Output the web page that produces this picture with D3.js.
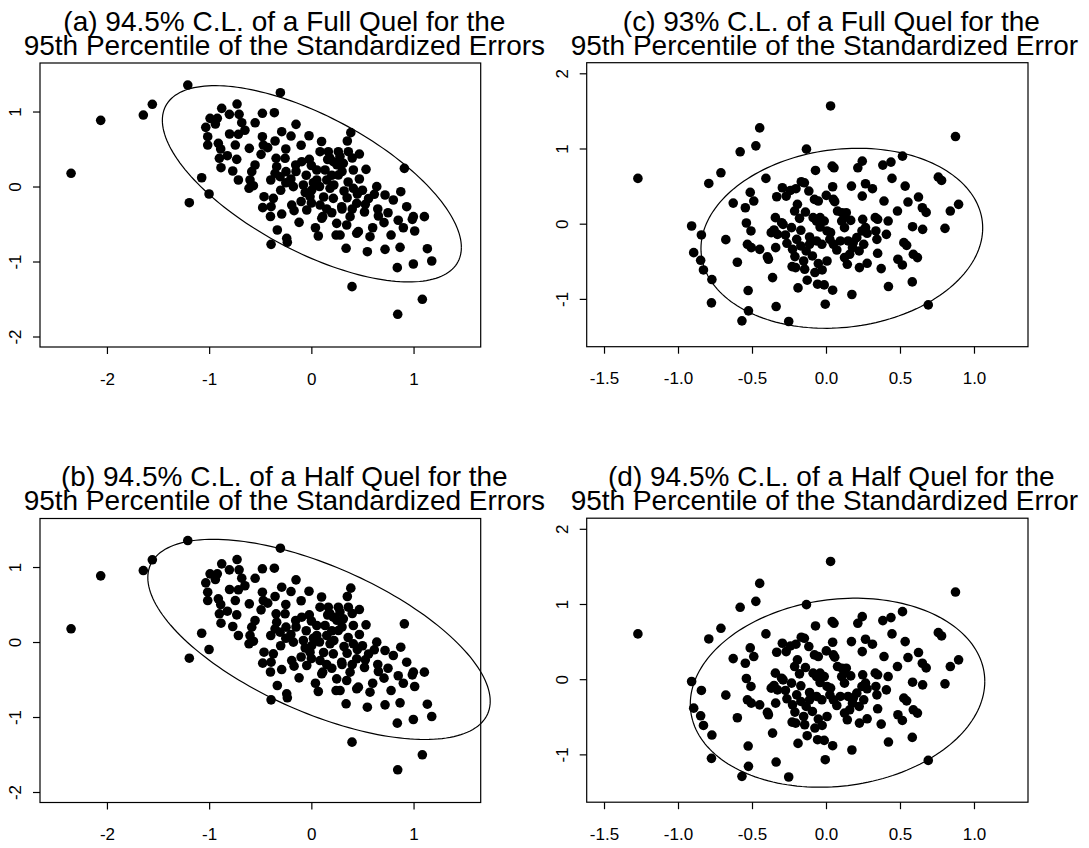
<!DOCTYPE html>
<html>
<head>
<meta charset="utf-8">
<script src="https://cdn.jsdelivr.net/npm/d3@7"></script>
<style>
  body { margin: 0; background: #fff; }
  svg { display: block; font-family: "Liberation Sans", Arial, Helvetica, sans-serif; }
</style>
</head>
<body>
<div id="chart"></div>
<script>
// standardized errors used in panels (a) and (b)
var errAB_x = [-2.351,-2.061,-1.644,-1.556,-1.209,-0.303,-1.073,-1.001,-1.194,-0.877,-0.727,-0.991,-0.920,-0.802,-0.707,-0.681,-1.033,-0.939,-1.014,-1.014,
  -0.910,-0.887,-0.714,-0.744,-0.900,-0.822,-0.884,-0.730,-0.769,-0.714,-0.479,-0.362,-0.150,-0.023,-0.199,-0.290,-0.355,-0.479,-0.470,-0.427,
  -0.607,-0.492,-0.551,-0.583,-0.600,-0.567,-0.610,-0.345,-0.257,-0.339,-0.355,-0.397,-0.306,-0.248,-0.463,-0.372,-0.476,-0.394,-0.290,-0.192,
  -0.169,-0.120,-0.333,-0.153,-0.094,-0.020,0.085,0.166,0.264,0.362,0.386,0.352,0.470,0.215,0.313,0.053,0.134,-0.176,-0.078,0.004,
  0.053,0.151,0.264,0.411,0.535,0.411,0.444,0.528,0.616,0.640,0.183,0.215,0.297,0.379,0.111,0.085,-0.013,-0.045,0.248,0.346,
  0.460,0.574,0.281,0.068,-0.241,0.910,0.721,0.875,0.802,0.933,0.998,1.106,0.988,1.011,0.780,0.868,0.721,0.548,0.340,0.242,
  1.135,1.178,0.998,0.841,0.398,1.086,0.845,-0.235,-0.394,0.102,0.656,0.711,0.444,-0.050,0.000,0.220,0.320,0.120,-0.100,0.360,
  0.470,0.250,-0.200,0.160,0.520,0.560,0.040,-0.250,-0.100,0.300,0.200,-0.300,0.100,0.650,0.750,0.850,-0.650,-0.550,-0.800,-0.400,
  0.900,0.600,0.350,0.180,0.280,0.400,0.020,-0.060,0.080,0.300,0.200,0.450,0.500,-0.150,-0.250,0.000,0.150,0.400];
var errAB_y = [0.176,0.882,0.953,1.096,1.353,1.251,0.117,-0.100,-0.216,1.042,1.100,0.909,0.909,0.962,0.962,0.851,0.789,0.833,0.664,0.553,
  0.576,0.500,0.696,0.553,0.376,0.411,0.251,0.362,0.207,0.087,0.976,0.984,0.829,0.677,0.673,0.731,0.607,0.664,0.553,0.518,
  0.509,0.429,0.287,0.198,0.087,0.011,-0.024,0.376,0.376,0.264,0.176,0.087,0.131,0.198,-0.136,-0.158,-0.282,-0.269,-0.367,-0.247,
  -0.322,-0.478,-0.580,0.287,0.331,0.362,0.464,0.464,0.464,0.464,0.718,0.607,0.433,0.331,0.309,0.220,0.220,-0.002,0.020,-0.047,
  0.087,0.087,0.153,0.220,0.229,-0.024,-0.224,-0.238,-0.104,-0.002,-0.024,-0.158,-0.269,-0.402,-0.402,-0.247,-0.136,-0.313,-0.491,-0.513,
  -0.602,-0.669,-0.647,-0.660,-0.691,0.242,-0.113,-0.069,-0.180,-0.269,-0.402,-0.402,-0.438,-0.593,-0.647,-0.811,-0.838,-0.869,-0.824,-0.647,
  -0.829,-0.993,-1.033,-1.082,-1.335,-1.504,-1.704,-0.744,-0.771,-0.424,-0.393,-0.482,-0.624,0.150,0.280,0.020,-0.060,-0.140,-0.200,0.060,
  0.100,0.290,0.100,0.360,-0.340,-0.160,-0.550,0.500,0.550,-0.300,-0.350,-0.050,0.600,-0.300,-0.350,-0.450,0.750,0.850,0.700,-0.400,
  -0.550,-0.550,-0.150,0.380,0.400,0.380,0.050,-0.080,0.000,0.200,0.150,-0.100,-0.050,0.200,0.050,-0.220,-0.300,-0.300];

// standardized errors used in panels (c) and (d)
var errCD_x = [-1.271,0.031,-0.448,-0.474,-0.580,-0.132,0.875,-0.710,-0.792,-0.406,-0.908,-0.842,-0.894,-0.847,-0.828,-0.771,-0.774,-0.568,-0.524,-0.526,
  -0.677,-0.599,-0.627,-0.545,-0.512,-0.488,-0.538,-0.507,-0.531,-0.505,-0.448,-0.396,-0.389,-0.361,-0.337,-0.252,-0.189,-0.342,-0.370,-0.351,
  -0.340,-0.295,-0.333,-0.269,-0.290,-0.274,-0.264,-0.233,-0.226,-0.198,-0.210,-0.229,-0.203,-0.167,-0.146,-0.116,-0.193,-0.212,-0.139,-0.179,
  -0.170,-0.111,-0.111,-0.134,-0.151,-0.144,-0.127,-0.075,-0.052,-0.026,-0.057,-0.012,0.007,0.045,-0.005,0.175,-0.078,-0.052,-0.071,0.042,
  0.054,0.002,0.045,0.050,0.059,-0.087,-0.040,-0.064,-0.012,-0.040,0.007,-0.028,0.031,0.026,0.050,0.073,0.097,0.078,0.108,0.125,
  0.137,0.167,0.106,0.125,0.149,0.179,0.160,0.125,0.144,0.184,0.208,0.226,0.224,0.255,0.243,0.267,0.248,0.278,0.278,0.172,
  0.215,0.245,0.267,0.245,0.314,0.333,0.349,0.337,0.344,0.408,0.349,0.373,0.422,0.392,0.384,0.439,0.517,0.446,0.535,0.554,
  0.625,0.483,0.420,0.585,0.653,0.651,0.677,0.526,0.545,0.590,0.618,0.486,0.516,0.583,0.691,0.759,0.781,0.804,0.840,0.896,
  -0.092,-0.064,-0.170,-0.205,-0.240,-0.300,-0.328];
var errCD_y = [0.602,1.566,1.274,1.035,0.956,0.991,1.159,0.677,0.535,0.602,-0.031,-0.150,-0.385,-0.487,-0.615,-0.743,-1.053,-1.292,-1.159,-0.889,
  -0.212,-0.513,0.274,0.212,0.416,0.301,0.009,-0.097,-0.274,-0.319,-0.341,-0.442,-0.473,-0.717,-1.102,-1.301,-0.854,0.080,-0.119,-0.084,
  -0.319,0.478,0.358,0.367,-0.009,-0.150,-0.261,-0.053,-0.341,-0.208,-0.438,-0.571,0.465,0.558,0.544,0.434,0.257,0.168,0.155,0.071,
  -0.088,-0.177,-0.274,-0.363,-0.496,-0.606,-0.752,-0.650,-0.531,-0.615,-0.805,-0.814,-0.496,-0.885,-1.071,-0.942,0.323,0.301,0.708,0.765,
  0.743,0.376,0.491,0.323,0.292,0.080,0.080,0.035,0.035,-0.044,-0.097,-0.274,-0.119,-0.208,-0.274,-0.350,-0.230,0.168,0.146,0.088,
  0.146,0.044,0.035,-0.053,-0.230,-0.319,-0.407,-0.451,-0.540,-0.252,-0.186,-0.584,-0.363,-0.274,-0.097,-0.053,0.058,-0.128,-0.527,0.500,
  0.743,0.832,0.531,0.367,0.465,0.080,0.058,-0.097,-0.208,-0.142,-0.394,-0.597,-0.836,0.301,0.779,0.819,0.898,0.602,0.500,0.288,
  0.354,0.168,0.035,-0.040,-0.075,0.212,0.150,-0.252,-0.288,-0.407,-0.451,-0.473,-0.549,-0.774,-1.080,0.619,0.575,-0.062,0.168,0.257,
  -0.429,-0.230,-0.296,-0.584,0.442,0.013,-0.142];

// confidence ellipses: centre x, centre y, var x, cov xy, var y
var ellA = [0.005, 0.036, 2.140, -1.240, 1.713];
var ellB = [0.075, 0.035, 2.806, -1.380, 1.782];
var ellC = [0.107, -0.194, 0.906, 0.130, 1.433];
var ellD = [0.078, -0.180, 0.990, 0.150, 1.580];

var titlesA = ["(a) 94.5% C.L. of a Full Quel for the", "95th Percentile of the Standardized Errors"];
var titlesB = ["(b) 94.5% C.L. of a Half Quel for the", "95th Percentile of the Standardized Errors"];
var titlesC = ["(c) 93% C.L. of a Full Quel for the", "95th Percentile of the Standardized Error"];
var titlesD = ["(d) 94.5% C.L. of a Half Quel for the", "95th Percentile of the Standardized Error"];

var ticksLeftX = [-2, -1, 0, 1], ticksLeftY = [-2, -1, 0, 1];
var ticksRightX = [-1.5, -1.0, -0.5, 0.0, 0.5, 1.0], ticksRightY = [-1, 0, 1, 2];

var width = 1089, height = 848;
var svg = d3.select("#chart").append("svg")
  .attr("width", width)
  .attr("height", height);

// R prints a plain hyphen for negatives
var locale = d3.formatLocale({decimal: ".", thousands: ",", grouping: [3], currency: ["", ""], minus: "-"});
var fmtInt = locale.format("d"), fmtOne = locale.format(".1f");

var rowShift = 455.5;
var leftBox = {x0: 40, x1: 480.7, y0: 63, y1: 347, xd: [-2.655, 1.657], yd: [-2.14, 1.647], shift2: 0};
var rightBox = {x0: 586.7, x1: 1028, y0: 62.7, y1: 346.7, xd: [-1.617, 1.365], yd: [-1.636, 2.141], shift2: -7};

function ellipsePoints(e) {
  var l11 = Math.sqrt(e[2]), l21 = e[3] / l11, l22 = Math.sqrt(e[4] - l21 * l21);
  return d3.range(0, 361, 2).map(function(deg) {
    var t = deg * Math.PI / 180;
    return [e[0] + l11 * Math.cos(t), e[1] + l21 * Math.cos(t) + l22 * Math.sin(t)];
  });
}

function drawPanel(box, dy, xs, ys, ell, titles, tx, ty, fmt) {
  var y0 = box.y0 + dy, y1 = box.y1 + dy;
  var x = d3.scaleLinear().domain(box.xd).range([box.x0, box.x1]);
  var y = d3.scaleLinear().domain(box.yd).range([y1, y0]);
  var g = svg.append("g");

  // two-line title, sits a bit right of the plot centre like the original
  var cx = (box.x0 + box.x1) / 2 + 24;
  g.selectAll("text.title").data(titles).enter()
    .append("text")
    .attr("class", "title")
    .attr("x", function(d, i) { return i ? cx + box.shift2 : cx; })
    .attr("y", function(d, i) { return dy + 30.5 + i * 24; })
    .attr("text-anchor", "middle")
    .style("font-size", "28px")
    .text(function(d) { return d; });

  // points
  g.append("g").selectAll("circle")
    .data(d3.range(xs.length)).enter()
    .append("circle")
    .attr("cx", function(i) { return x(xs[i]); })
    .attr("cy", function(i) { return y(ys[i]); })
    .attr("r", 4.8)
    .attr("fill", "#000");

  // ellipse
  var line = d3.line()
    .x(function(d) { return x(d[0]); })
    .y(function(d) { return y(d[1]); });
  g.append("path")
    .datum(ellipsePoints(ell))
    .attr("d", line)
    .attr("fill", "none")
    .attr("stroke", "#000")
    .attr("stroke-width", 1.2);

  // box
  g.append("rect")
    .attr("x", box.x0).attr("y", y0)
    .attr("width", box.x1 - box.x0).attr("height", y1 - y0)
    .attr("fill", "none").attr("stroke", "#000").attr("stroke-width", 1.2);

  // x axis
  var xa = g.append("g")
    .attr("transform", "translate(0," + y1 + ")")
    .call(d3.axisBottom(x).tickValues(tx).tickFormat(fmt).tickSize(7).tickSizeOuter(0));
  xa.select(".domain").remove();
  xa.selectAll("line").attr("stroke-width", 1.2);
  xa.selectAll("text").attr("y", 37.5).attr("dy", 0)
    .style("font-size", "17px").style("font-family", "Liberation Sans, Arial, sans-serif").attr("fill", "#000");

  // y axis, labels parallel to the axis
  var ya = g.append("g")
    .attr("transform", "translate(" + box.x0 + ",0)")
    .call(d3.axisLeft(y).tickValues(ty).tickFormat(fmtInt).tickSize(7).tickSizeOuter(0));
  ya.select(".domain").remove();
  ya.selectAll("line").attr("stroke-width", 1.2);
  ya.selectAll("text")
    .attr("transform", "rotate(-90)")
    .attr("x", 0).attr("y", -19).attr("dy", 0)
    .style("text-anchor", "middle")
    .style("font-size", "17px").style("font-family", "Liberation Sans, Arial, sans-serif").attr("fill", "#000");
}

drawPanel(leftBox, 0, errAB_x, errAB_y, ellA, titlesA, ticksLeftX, ticksLeftY, fmtInt);
drawPanel(leftBox, rowShift, errAB_x, errAB_y, ellB, titlesB, ticksLeftX, ticksLeftY, fmtInt);
drawPanel(rightBox, 0, errCD_x, errCD_y, ellC, titlesC, ticksRightX, ticksRightY, fmtOne);
drawPanel(rightBox, rowShift, errCD_x, errCD_y, ellD, titlesD, ticksRightX, ticksRightY, fmtOne);
</script>
</body>
</html>
